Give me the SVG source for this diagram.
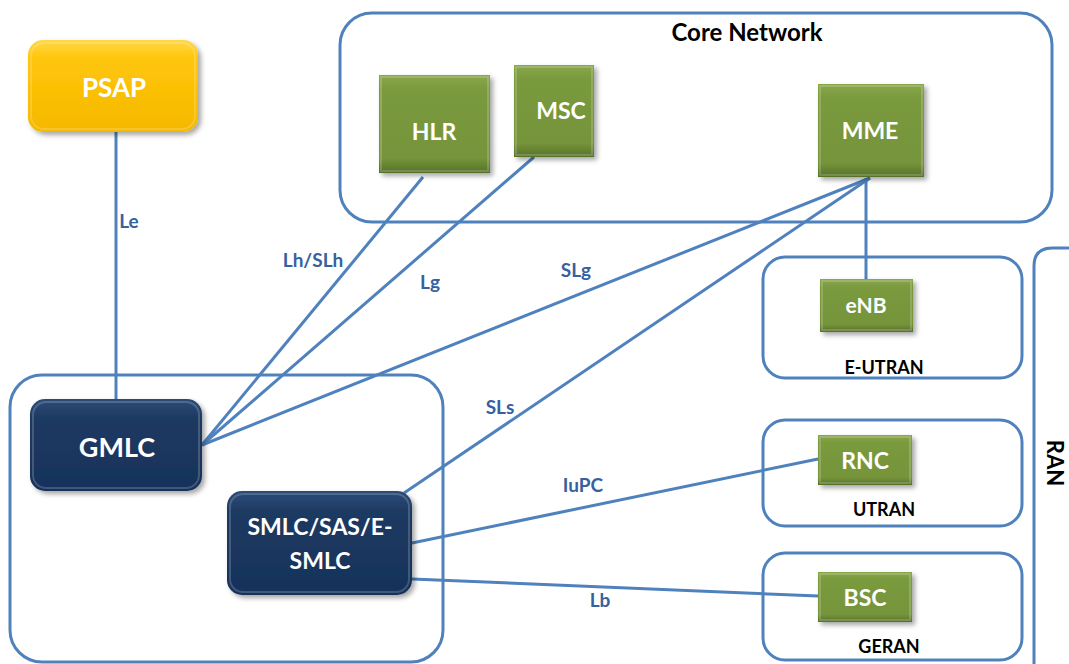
<svg xmlns="http://www.w3.org/2000/svg" width="1069" height="664" viewBox="0 0 1069 664">
<defs>
<linearGradient id="gGreen" x1="0" y1="0" x2="0" y2="1">
<stop offset="0" stop-color="#8aa84a"/><stop offset="0.15" stop-color="#7a9a3e"/><stop offset="0.85" stop-color="#76943a"/><stop offset="1" stop-color="#56702a"/>
</linearGradient>
<linearGradient id="gNavy" x1="0" y1="0" x2="0" y2="1">
<stop offset="0" stop-color="#2c4c78"/><stop offset="0.2" stop-color="#1e3a62"/><stop offset="1" stop-color="#17325a"/>
</linearGradient>
<linearGradient id="gGold" x1="0" y1="0" x2="0" y2="1">
<stop offset="0" stop-color="#ffd84a"/><stop offset="0.2" stop-color="#ffc60a"/><stop offset="1" stop-color="#f5b800"/>
</linearGradient>
<filter id="sh" x="-20%" y="-20%" width="150%" height="150%">
<feDropShadow dx="3" dy="3" stdDeviation="2.5" flood-color="#000" flood-opacity="0.35"/>
</filter>
<style>
.grp{fill:none;stroke:#4f81bd;stroke-width:3}
.con{stroke:#4f81bd;stroke-width:3;fill:none}
text{font-family:Lato,"Open Sans","Liberation Sans",sans-serif;font-weight:bold;text-anchor:middle}
.lbl{font-size:19px;fill:#35629f}
.nt{fill:#fff}
.gt{fill:#000}
.green{fill:url(#gGreen);filter:url(#sh)}
.navy{fill:url(#gNavy);filter:url(#sh)}
.bev{fill:none;stroke:#ffffff;stroke-opacity:0.18;stroke-width:2}
</style>
</defs>
<g id="groups">
<rect id="core" class="grp" x="340" y="13" width="712" height="209" rx="32"/>
<text class="gt" x="747" y="41" style="font-size:24px">Core Network</text>
<rect id="eutran" class="grp" x="763" y="257" width="259" height="121" rx="22"/>
<text class="gt" x="884" y="374" style="font-size:18px">E-UTRAN</text>
<rect id="utran" class="grp" x="763" y="420" width="259" height="106" rx="22"/>
<text class="gt" x="884" y="516" style="font-size:18px">UTRAN</text>
<rect id="geran" class="grp" x="763" y="553" width="259" height="107" rx="22"/>
<text class="gt" x="889" y="653" style="font-size:18px">GERAN</text>
<path id="ran" class="grp" d="M1034,680 V266 Q1034,248 1052,248 H1080"/>
<text class="gt" x="463" y="-1047" transform="rotate(90)" style="font-size:22px">RAN</text>
<rect id="loc" class="grp" x="10" y="375" width="433" height="287" rx="32"/>
</g>
<g id="connectors">
<line class="con" x1="116" y1="132" x2="116" y2="399"/>
<line class="con" x1="202" y1="445" x2="423" y2="177"/>
<line class="con" x1="202" y1="445" x2="534" y2="157"/>
<line class="con" x1="202" y1="445" x2="870" y2="178"/>
<line class="con" x1="404" y1="493" x2="870" y2="178"/>
<line class="con" x1="866" y1="178" x2="866" y2="279"/>
<line class="con" x1="412" y1="543" x2="818" y2="459"/>
<line class="con" x1="412" y1="579" x2="818" y2="596"/>
<text class="lbl" x="129" y="228">Le</text>
<text class="lbl" x="313" y="267">Lh/SLh</text>
<text class="lbl" x="430" y="289">Lg</text>
<text class="lbl" x="576" y="277">SLg</text>
<text class="lbl" x="500" y="414">SLs</text>
<text class="lbl" x="583" y="492">IuPC</text>
<text class="lbl" x="600" y="607">Lb</text>
</g>
<g id="psap">
<rect x="28" y="40" width="170" height="92" rx="15" fill="url(#gGold)" filter="url(#sh)"/>
<rect x="31" y="43" width="164" height="86" rx="13" class="bev" stroke-opacity="0.3"/>
<text class="nt" x="114" y="97" style="font-size:26px">PSAP</text>
</g>
<g id="hlr">
<rect class="green" x="379" y="75" width="111" height="98"/>
<rect class="bev" x="381" y="77" width="107" height="94"/>
<text class="nt" x="434" y="140" style="font-size:23px">HLR</text>
</g>
<g id="msc">
<rect class="green" x="514" y="65" width="80" height="92"/>
<rect class="bev" x="516" y="67" width="76" height="88"/>
<text class="nt" x="561" y="119" style="font-size:23px">MSC</text>
</g>
<g id="mme">
<rect class="green" x="818" y="84" width="106" height="93"/>
<rect class="bev" x="820" y="86" width="102" height="89"/>
<text class="nt" x="870" y="139" style="font-size:23px">MME</text>
</g>
<g id="enb">
<rect class="green" x="820" y="279" width="93" height="53"/>
<rect class="bev" x="822" y="281" width="89" height="49"/>
<text class="nt" x="866" y="313" style="font-size:21px">eNB</text>
</g>
<g id="rnc">
<rect class="green" x="818" y="435" width="94" height="50"/>
<rect class="bev" x="820" y="437" width="90" height="46"/>
<text class="nt" x="865" y="469" style="font-size:23px">RNC</text>
</g>
<g id="bsc">
<rect class="green" x="818" y="572" width="94" height="50"/>
<rect class="bev" x="820" y="574" width="90" height="46"/>
<text class="nt" x="865" y="606" style="font-size:23px">BSC</text>
</g>
<g id="gmlc">
<rect class="navy" x="30" y="399" width="172" height="92" rx="15"/>
<rect class="bev" x="33" y="402" width="166" height="86" rx="13"/>
<text class="nt" x="117" y="457" style="font-size:27px">GMLC</text>
</g>
<g id="smlc">
<rect class="navy" x="227" y="491" width="185" height="104" rx="15"/>
<rect class="bev" x="230" y="494" width="179" height="98" rx="13"/>
<text class="nt" x="320" y="535" style="font-size:23px">SMLC/SAS/E-</text>
<text class="nt" x="320" y="569" style="font-size:23px">SMLC</text>
</g>
</svg>
